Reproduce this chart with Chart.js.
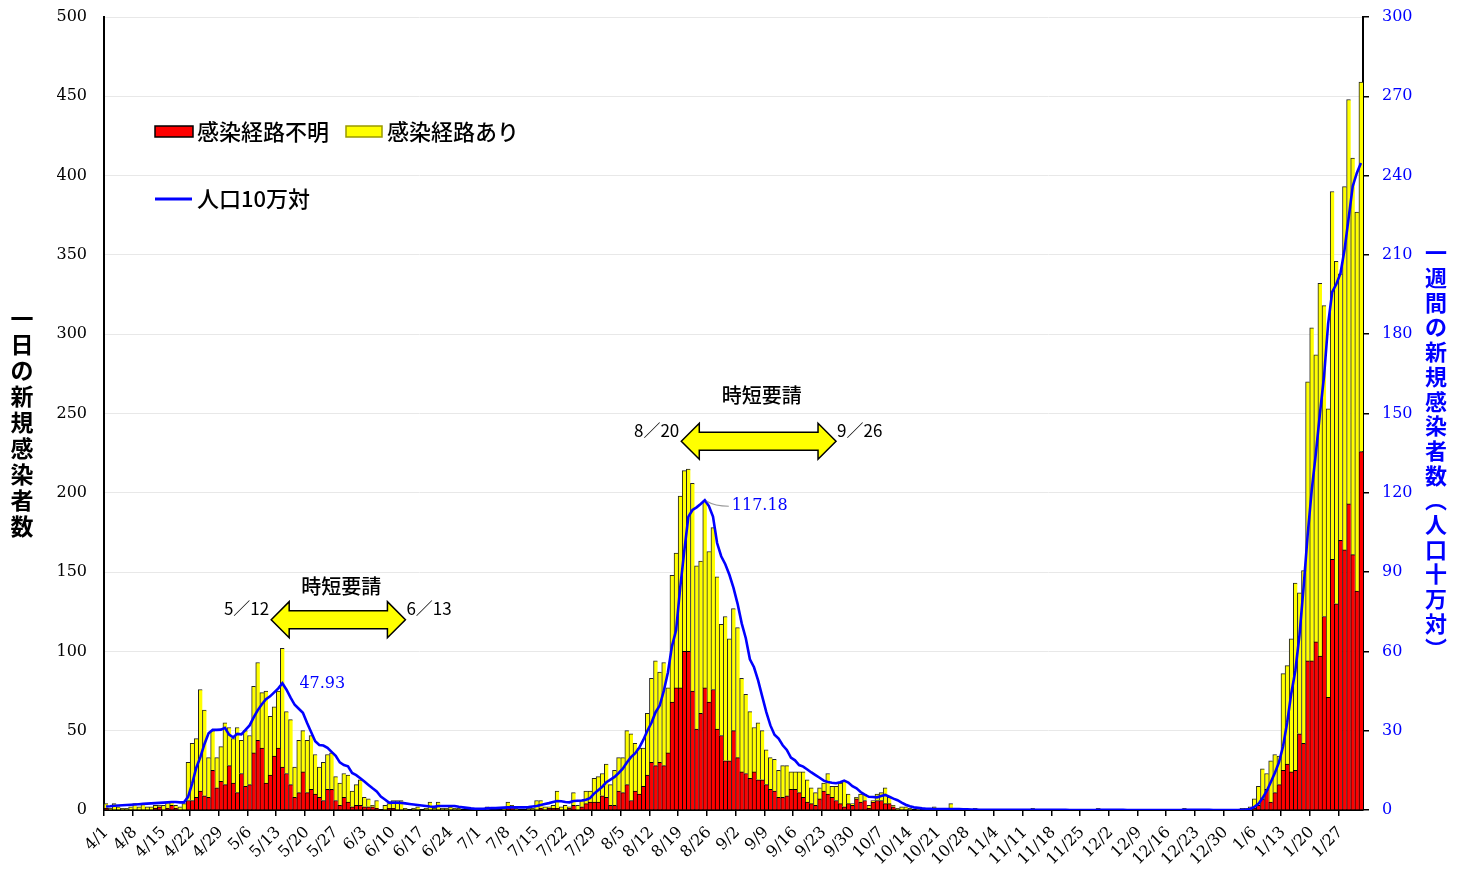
<!DOCTYPE html>
<html><head><meta charset="utf-8">
<style>html,body{margin:0;padding:0;background:#fff;}#wrap{width:1462px;height:870px;position:relative;}</style>
<script src="https://cdn.jsdelivr.net/npm/chart.js@4.4.1/dist/chart.umd.min.js"></script>
</head><body><div id="wrap"><canvas id="c"></canvas></div>
<script>
// ---- data (one value per day from 4/1) ----
const dayCount = 307;
const tickLabels = ["4/1","4/8","4/15","4/22","4/29","5/6","5/13","5/20","5/27","6/3","6/10","6/17","6/24","7/1","7/8","7/15","7/22","7/29","8/5","8/12","8/19","8/26","9/2","9/9","9/16","9/23","9/30","10/7","10/14","10/21","10/28","11/4","11/11","11/18","11/25","12/2","12/9","12/16","12/23","12/30","1/6","1/13","1/20","1/27"];
// 感染経路不明 (red)
const unknownRoute = [
1,0,0,0,0,0,0,0,0,0,
0,0,1,2,0,1,3,1,0,0,
6,6,8,12,9,8,25,14,18,16,
28,17,11,23,15,16,36,44,39,17,
22,34,39,27,23,16,8,11,24,11,
13,10,8,6,13,13,6,3,8,5,
2,3,3,2,2,2,1,0,0,1,
1,0,0,0,0,0,0,0,0,0,
0,0,0,0,0,0,0,0,0,0,
0,0,0,0,0,0,0,0,2,2,
0,0,0,0,0,0,1,0,1,1,
1,0,0,1,3,0,2,4,5,5,
5,9,8,3,3,12,11,16,6,12,
10,15,22,30,28,30,28,36,68,77,
77,100,100,75,51,61,77,68,76,51,
47,31,31,50,33,24,23,20,24,19,
19,16,13,12,8,8,9,13,13,11,
8,5,4,3,7,12,10,8,6,4,
2,4,3,7,5,6,1,5,6,6,
4,4,2,0,0,0,0,0,0,0,
0,0,0,0,0,0,0,0,0,0,
0,0,0,0,0,0,0,0,0,0,
0,0,0,0,0,0,0,0,0,0,
0,0,0,0,0,0,0,0,0,0,
0,0,0,0,0,0,0,0,0,0,
0,0,0,0,0,0,0,0,0,0,
0,0,0,0,0,0,0,0,0,0,
0,0,0,0,0,0,0,0,0,0,
1,3,7,13,5,11,16,25,29,24,
25,48,42,94,94,106,97,122,71,158,
130,170,164,193,161,138,226];
// 感染経路あり (yellow)
const knownRoute = [
3,1,4,2,1,1,2,4,2,4,
2,2,2,1,3,4,2,2,2,4,
24,36,37,64,54,25,25,19,22,39,
24,28,41,21,35,31,42,49,35,58,
37,31,36,75,39,41,19,33,26,33,
34,25,19,24,22,23,15,14,15,17,
10,13,16,6,5,1,5,0,3,3,
5,6,6,1,0,1,2,0,1,5,
1,5,1,1,2,1,1,0,0,0,
0,0,0,2,0,0,0,1,3,1,
1,0,0,1,1,6,5,2,1,2,
11,2,3,1,8,3,4,8,7,15,
16,14,21,13,22,21,22,34,42,30,
29,24,39,53,66,57,65,41,80,85,
121,114,115,131,103,96,118,95,102,96,
70,91,77,77,82,59,50,42,28,36,
31,22,20,20,17,20,19,11,11,13,
16,14,10,8,7,5,13,7,9,13,
16,6,1,1,5,4,2,1,4,5,
10,4,1,1,2,2,1,0,1,0,
0,1,2,0,1,0,4,1,0,0,
0,0,1,0,0,0,0,0,0,0,
0,0,0,0,0,0,1,0,0,0,
0,0,0,0,0,0,0,0,0,0,
0,0,1,0,0,0,0,0,0,0,
0,0,0,0,0,0,0,0,0,0,
0,0,0,1,0,0,0,0,0,0,
0,0,0,0,0,0,0,1,1,2,
6,12,19,10,26,24,18,61,62,84,
118,89,109,176,210,181,235,196,182,232,
216,168,229,255,250,239,233];
// 人口10万対 (weekly, per 100k)
const per100k = [
1.3,1.4,1.6,1.7,1.8,1.9,2.0,2.1,2.2,2.3,
2.4,2.5,2.6,2.7,2.8,2.9,3.0,3.0,2.9,2.9,
5,10,16,20,25,29,30.3,30.3,30.4,31.1,
28.5,27.5,28.8,28.6,30.3,32,35,37.8,40,41.9,
43,44.5,46,47.93,45.5,42.5,39.8,38.3,36.8,33,
29.5,26,24.6,24.4,23.5,22,20.5,18,17,16.5,
14,13.2,12,10.8,9.5,8.2,7,5.1,4,2.8,
2.8,2.8,2.7,2.5,2.3,2.1,1.9,1.7,1.5,1.3,
1.2,1.5,1.5,1.5,1.5,1.5,1.2,1.0,0.8,0.6,
0.5,0.5,0.5,0.6,0.7,0.7,0.8,0.9,1.0,1.0,
1.0,1.0,1.0,1.1,1.3,1.5,1.9,2.3,2.6,3.0,
3.4,3.3,3.0,2.9,3.4,3.5,3.6,3.9,4.5,6.2,
7.5,8.8,10.5,11.5,12.5,14.0,15.6,18.0,20.0,21.4,
23.5,26.5,30,33,37,39.5,45,52,62,68,
84,98,111,113.5,114.5,115.8,117.18,115,111,101,
96,93,89,84,78,70.6,65,57,54,49,
43,37,32,28.5,27,24.5,22.7,19.8,18.8,17,
16.4,15.3,14.2,13.2,12.2,11.1,10.6,10.3,10.1,10.5,
11.1,10.4,9,8.2,6.8,5.8,5.0,4.9,4.8,5.3,
5.7,5.0,4.3,3.7,2.8,2.0,1.4,1.0,0.8,0.6,
0.5,0.5,0.4,0.4,0.4,0.4,0.4,0.4,0.4,0.3,
0.3,0.2,0.2,0.1,0.1,0.1,0.1,0.1,0.1,0.1,
0.1,0.1,0.1,0.1,0.1,0.1,0.1,0.1,0.1,0.1,
0.1,0.1,0.1,0.1,0.1,0,0,0,0,0,
0,0,0.1,0.1,0.1,0.1,0.1,0.1,0.1,0,
0,0,0,0,0,0,0,0,0,0,
0,0,0,0.1,0.1,0.1,0.1,0.1,0.1,0.1,
0,0,0,0,0,0,0,0.1,0.2,0.4,
1.2,2.3,4.5,7.1,10.5,14,18,24,33,44,
52.7,66,84,104,121,134.8,150,164,184,196,
199,203,212,224,236,241,244.8];

const categories = [];
for (let i = 0; i < dayCount; i++) {
  const d = new Date(Date.UTC(2021, 3, 1 + i));
  categories.push((d.getUTCMonth() + 1) + '/' + d.getUTCDate());
}
// annotations: 時短要請 periods (day indices) and peak labels
const periods = [
  {from: 41, to: 73, level: 120, fromLabel: '5／12', toLabel: '6／13', gap: 33},
  {from: 141, to: 178, level: 232.5, fromLabel: '8／20', toLabel: '9／26', gap: 46}
];
const peaks = [
  {idx: 43, text: '47.93', dx: 17, dy: 1, leader: false},
  {idx: 146, text: '117.18', dx: 27, dy: 6, leader: true}
];

const JP = '"Noto Sans CJK JP", "Noto Sans", sans-serif';
const SERIF = '"DejaVu Serif", "Liberation Serif", serif';

function drawArrow(ctx, x1, x2, yc) {
  const hh = 18, sh = 9, hl = 18;
  ctx.beginPath();
  ctx.moveTo(x1, yc);
  ctx.lineTo(x1 + hl, yc - hh);
  ctx.lineTo(x1 + hl, yc - sh);
  ctx.lineTo(x2 - hl, yc - sh);
  ctx.lineTo(x2 - hl, yc - hh);
  ctx.lineTo(x2, yc);
  ctx.lineTo(x2 - hl, yc + hh);
  ctx.lineTo(x2 - hl, yc + sh);
  ctx.lineTo(x1 + hl, yc + sh);
  ctx.lineTo(x1 + hl, yc + hh);
  ctx.closePath();
  ctx.fillStyle = '#FFFF00';
  ctx.fill();
  ctx.lineWidth = 1.5;
  ctx.strokeStyle = '#000';
  ctx.stroke();
}

const overlay = {
  id: 'overlay',
  afterDatasetsDraw(chart) {
    const ctx = chart.ctx;
    const xs = chart.scales.x, ys = chart.scales.y, y2 = chart.scales.y2;
    ctx.save();
    periods.forEach(p => {
      const x1 = xs.getPixelForValue(p.from) - 3;
      const x2 = xs.getPixelForValue(p.to);
      const yc = ys.getPixelForValue(p.level);
      drawArrow(ctx, x1, x2, yc);
      ctx.fillStyle = '#000';
      ctx.textBaseline = 'middle';
      ctx.font = '17px ' + JP;
      ctx.textAlign = 'right';
      ctx.fillText(p.fromLabel, x1 - 2, yc - 11);
      ctx.textAlign = 'left';
      ctx.fillText(p.toLabel, x2 + 1, yc - 11);
      ctx.font = '500 20px ' + JP;
      ctx.textAlign = 'center';
      ctx.fillText('時短要請', (x1 + x2) / 2 + 3, yc - p.gap);
    });
    peaks.forEach(pk => {
      const px = xs.getPixelForValue(pk.idx);
      const py = y2.getPixelForValue(per100k[pk.idx]);
      if (pk.leader) {
        ctx.beginPath();
        ctx.moveTo(px + 2, py + 1);
        ctx.quadraticCurveTo(px + 10, py + 6, px + 24, py + 6);
        ctx.strokeStyle = '#999';
        ctx.lineWidth = 1.2;
        ctx.stroke();
      }
      ctx.font = '16px ' + SERIF;
      ctx.fillStyle = '#0000FF';
      ctx.textAlign = 'left';
      ctx.textBaseline = 'middle';
      ctx.fillText(pk.text, px + pk.dx, py + pk.dy);
    });
    ctx.restore();
  },
  afterDraw(chart) {
    const ctx = chart.ctx;
    ctx.save();
    ctx.textAlign = 'center';
    ctx.textBaseline = 'middle';
    // left axis title
    ctx.font = 'bold 23px ' + JP;
    ctx.fillStyle = '#000';
    [...'一日の新規感染者数'].forEach((c, i) => ctx.fillText(c, 22, 318 + i * 26));
    // right axis title
    ctx.font = 'bold 22px ' + JP;
    ctx.fillStyle = '#0000FF';
    [...'一週間の新規感染者数︵人口十万対︶'].forEach((c, i) => ctx.fillText(c, 1436, 253 + i * 24.7));
    // legend
    ctx.textAlign = 'left';
    ctx.font = '500 22px ' + JP;
    ctx.fillStyle = '#FF0000';
    ctx.fillRect(155, 126, 38, 11);
    ctx.strokeStyle = '#000'; ctx.lineWidth = 1.5;
    ctx.strokeRect(155, 126, 38, 11);
    ctx.fillStyle = '#000';
    ctx.fillText('感染経路不明', 197, 132);
    ctx.fillStyle = '#FFFF00';
    ctx.fillRect(346, 126, 36, 11);
    ctx.strokeStyle = '#999900';
    ctx.strokeRect(346, 126, 36, 11);
    ctx.fillStyle = '#000';
    ctx.fillText('感染経路あり', 387, 132);
    ctx.beginPath();
    ctx.moveTo(155, 199); ctx.lineTo(192, 199);
    ctx.strokeStyle = '#0000FF'; ctx.lineWidth = 3; ctx.stroke();
    ctx.fillText('人口10万対', 197, 199);
    ctx.restore();
  }
};

function fixVertical(width) {
  return s => { s.width = width; s.paddingTop = 0; s.paddingBottom = 0; };
}

new Chart(document.getElementById('c'), {
  type: 'bar',
  data: {
    labels: categories,
    datasets: [
      {label: '感染経路不明', data: unknownRoute, backgroundColor: '#FF0000', borderColor: '#000',
       borderWidth: {top: 1, left: 1, right: 0, bottom: 0}, borderSkipped: false, stack: 's', yAxisID: 'y', order: 2,
       barPercentage: 1, categoryPercentage: 1},
      {label: '感染経路あり', data: knownRoute, backgroundColor: '#FFFF00', borderColor: '#222',
       borderWidth: {top: 1, left: 1, right: 0, bottom: 0}, borderSkipped: false, stack: 's', yAxisID: 'y', order: 2,
       barPercentage: 1, categoryPercentage: 1},
      {type: 'line', label: '人口10万対', data: per100k, borderColor: '#0000FF', borderWidth: 2.6,
       pointRadius: 0, tension: 0, fill: false, yAxisID: 'y2', order: 1}
    ]
  },
  options: {
    responsive: true, maintainAspectRatio: false, animation: false,
    layout: {padding: {top: 17, left: 0, right: 0, bottom: 0}},
    plugins: {legend: {display: false}, tooltip: {enabled: false}},
    scales: {
      x: {
        stacked: true, offset: true,
        grid: {drawOnChartArea: false, drawTicks: true, tickLength: 6, offset: true, lineWidth: 1.5,
               color: c => (c.index % 7 === 0 ? '#000' : 'rgba(0,0,0,0)')},
        border: {display: true, color: '#000', width: 2},
        ticks: {autoSkip: false, minRotation: 45, maxRotation: 45, padding: 7, color: '#000',
                font: {family: SERIF, size: 16},
                callback: (v, i) => (i % 7 === 0 ? tickLabels[i / 7] : '')},
        afterFit: s => { s.height = 60; s.paddingLeft = 0; s.paddingRight = 0; }
      },
      y: {
        stacked: true, min: 0, max: 500,
        ticks: {stepSize: 50, color: '#000', padding: 17, font: {family: SERIF, size: 16}},
        grid: {color: '#e8e8e8', drawTicks: false, lineWidth: 1},
        border: {display: true, color: '#000', width: 2},
        afterFit: fixVertical(104)
      },
      y2: {
        position: 'right', min: 0, max: 300,
        ticks: {stepSize: 30, color: '#0000FF', padding: 13, font: {family: SERIF, size: 16}},
        grid: {drawOnChartArea: false, drawTicks: true, tickLength: 6, color: '#000', lineWidth: 1.5},
        border: {display: true, color: '#000', width: 2},
        afterFit: fixVertical(99)
      }
    }
  },
  plugins: [overlay]
});
</script></body></html>
